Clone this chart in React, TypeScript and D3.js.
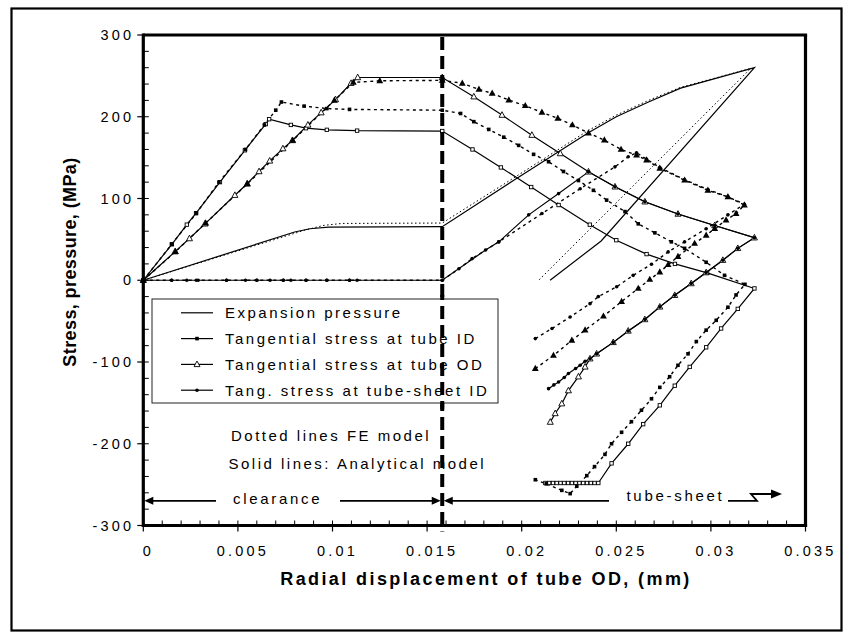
import React from 'react';
import * as d3 from 'd3';

type P = [number, number];

// ---------- axis ticks ----------
const xTickValues = [0, 0.005, 0.01, 0.015, 0.02, 0.025, 0.03, 0.035];
const xTickLabels = ['0', '0.005', '0.01', '0.015', '0.02', '0.025', '0.03', '0.035'];
const yTickValues = [-300, -200, -100, 0, 100, 200, 300];
const yTickLabels = ['-300', '-200', '-100', '0', '100', '200', '300'];
const clearanceEnd = 0.0158;

// ---------- data (radial displacement mm, stress MPa) ----------
const pressureAnalytical: P[] = [[0,0],[0.008,59],[0.0088,63],[0.0098,65],[0.0158,65.5],[0.0195,121],[0.0235,180],[0.025,200],[0.0267,218],[0.0284,235],[0.0323,260],[0.0242,48],[0.0215,0]];
const pressureFE: P[] = [[0,0],[0.0085,61],[0.0095,67],[0.0105,69.5],[0.0158,70],[0.0195,124],[0.0235,183],[0.025,202],[0.0267,220],[0.0284,236],[0.0321,259],[0.0209,0]];

const idAnalytical: P[] = [[0,0],[0.00151,44],[0.0023,68],[0.00279,82],[0.00405,120],[0.00537,159],[0.00647,191],[0.00665,197],[0.0078,190],[0.0086,186],[0.0097,184],[0.0113,183],[0.0158,182.5],[0.0174,160],[0.0189,138],[0.0205,114],[0.02195,92],[0.0236,68],[0.025,49],[0.0266,32],[0.0281,20],[0.0298,9],[0.0323,-10],[0.03142,-35],[0.03054,-59],[0.02975,-82],[0.02888,-106],[0.02809,-129],[0.0273,-153],[0.02642,-176],[0.02563,-200],[0.02475,-224],[0.02405,-248],[0.02385,-248],[0.02365,-248],[0.02345,-248],[0.02325,-248],[0.02305,-248],[0.02285,-248],[0.02265,-248],[0.02245,-248],[0.02225,-248],[0.02205,-248],[0.02185,-248],[0.02165,-248],[0.02145,-248],[0.02125,-248]];
const idFE: P[] = [[0,0],[0.0015,44],[0.0028,82],[0.004,120],[0.0054,160],[0.0064,190],[0.007,208],[0.0073,218],[0.0085,213],[0.0097,210],[0.0109,209],[0.0158,208],[0.01677,204],[0.01747,194],[0.01826,184.5],[0.01905,175],[0.01984,165],[0.02063,154],[0.02142,145],[0.02221,133],[0.023,122],[0.02379,110],[0.02449,98],[0.02546,84],[0.02616,69],[0.02704,58],[0.02791,47],[0.02861,39],[0.02975,22],[0.03072,6],[0.0318,-5],[0.03133,-18],[0.0309,-33],[0.03028,-49],[0.02975,-61],[0.02923,-75],[0.02879,-90],[0.02826,-104],[0.02782,-118],[0.0273,-131],[0.02686,-145],[0.02633,-159],[0.0258,-173],[0.02528,-186],[0.02475,-200],[0.0244,-213],[0.02385,-228],[0.02344,-239],[0.02291,-252],[0.02256,-261],[0.02212,-257],[0.0213,-249],[0.02072,-244]];

const odAnalytical: P[] = [[0,0],[0.00168,35],[0.00244,51],[0.00326,69],[0.00484,104],[0.00549,118],[0.00612,133],[0.00668,146],[0.00738,161],[0.00788,171],[0.0087,190],[0.0094,205],[0.01016,221],[0.01098,241],[0.01133,248],[0.0158,248],[0.01747,224.5],[0.01896,202],[0.02054,177.5],[0.02204,155],[0.02353,132.6],[0.02493,114.3],[0.02651,96],[0.02826,81],[0.0302,67],[0.0323,52],[0.03142,39],[0.03063,24.5],[0.02975,9.4],[0.02896,-4],[0.02809,-18.4],[0.0273,-32.6],[0.02651,-48],[0.02563,-62],[0.02484,-76],[0.02396,-90],[0.02361,-96],[0.02335,-106],[0.023,-118],[0.02247,-135],[0.02212,-151],[0.02177,-163],[0.02151,-173.5]];
const odFE: P[] = [[0,0],[0.0017,35],[0.0033,70],[0.0055,118],[0.0079,171],[0.0101,220],[0.0111,242],[0.0125,244],[0.0158,244.5],[0.01686,241],[0.01774,233.5],[0.01844,228.6],[0.01932,220.4],[0.02019,213.5],[0.02107,205.3],[0.02191,198],[0.02268,190],[0.02353,180],[0.02437,171.4],[0.02525,160],[0.02607,153],[0.0266,147],[0.0273,137],[0.02861,122.4],[0.02984,110],[0.0309,102],[0.03177,92],[0.03133,81.6],[0.0308,73.5],[0.0302,63.3],[0.02975,55],[0.02914,45],[0.02826,29],[0.02774,19],[0.0273,10],[0.02677,1],[0.02616,-10],[0.02528,-26],[0.02432,-44],[0.02335,-61],[0.02265,-73.5],[0.02168,-92],[0.02072,-108]];

const tsAnalytical: P[] = [[0,0],[0.0015,0],[0.0023,0],[0.0029,0],[0.0044,0],[0.0054,0],[0.006,0],[0.0067,0],[0.0074,0],[0.0078,0],[0.0086,0],[0.0097,0],[0.0109,0],[0.0113,0],[0.0158,0],[0.01809,37],[0.01879,47],[0.02037,80],[0.02195,106],[0.02353,132.6],[0.02493,114.3],[0.02651,96],[0.02826,81],[0.0302,67],[0.0323,52],[0.03142,39],[0.03063,24.5],[0.02975,9.4],[0.02896,-4],[0.02809,-18.4],[0.0273,-32.6],[0.02651,-48],[0.02563,-62],[0.02484,-76],[0.02396,-90],[0.02361,-96],[0.02335,-99],[0.02309,-104],[0.02285,-108],[0.02247,-114],[0.02225,-119],[0.02195,-124.5],[0.0217,-128],[0.02142,-132.6]];
const tsFE: P[] = [[0,0],[0.0015,0],[0.0028,0],[0.0044,0],[0.006,0],[0.0074,0],[0.0086,0],[0.0097,0],[0.0109,0],[0.0158,0],[0.01668,14],[0.01738,26.5],[0.01879,47],[0.02107,81.6],[0.02309,112],[0.02493,138.7],[0.02563,151],[0.02607,156],[0.0266,148],[0.0273,138],[0.02861,123],[0.02984,111],[0.0309,102],[0.03177,93],[0.0309,80],[0.02975,63],[0.02861,47],[0.02774,34.7],[0.02686,19.6],[0.02589,6],[0.02502,-8],[0.02405,-20],[0.02361,-28.6],[0.02256,-45],[0.0216,-59],[0.02072,-71.4]];

const legendLabels = ['Expansion pressure', 'Tangential stress at tube ID', 'Tangential stress at tube OD', 'Tang. stress at tube-sheet ID'];

type Marker = 'none' | 'sqOpen' | 'sqFill' | 'triOpen' | 'triFill' | 'dot';
interface Series { data: P[]; fe: boolean; marker: Marker; }

const series: Series[] = [
  { data: pressureAnalytical, fe: false, marker: 'none' },
  { data: pressureFE, fe: true, marker: 'none' },
  { data: idAnalytical, fe: false, marker: 'sqOpen' },
  { data: idFE, fe: true, marker: 'sqFill' },
  { data: odAnalytical, fe: false, marker: 'triOpen' },
  { data: odFE, fe: true, marker: 'triFill' },
  { data: tsAnalytical, fe: false, marker: 'dot' },
  { data: tsFE, fe: true, marker: 'dot' },
];

const FONT = '"Liberation Sans", Arial, Helvetica, sans-serif';

function MarkerGlyph({ type, cx, cy }: { type: Marker; cx: number; cy: number }) {
  switch (type) {
    case 'sqOpen':
      return <rect x={cx - 1.7} y={cy - 1.7} width={3.4} height={3.4} fill="#fff" stroke="#000" strokeWidth={0.9} />;
    case 'sqFill':
      return <rect x={cx - 1.8} y={cy - 1.8} width={3.6} height={3.6} fill="#000" />;
    case 'triOpen':
      return <polygon points={`${cx},${cy - 3.4} ${cx + 3},${cy + 2.2} ${cx - 3},${cy + 2.2}`} fill="#fff" stroke="#000" strokeWidth={0.9} />;
    case 'triFill':
      return <polygon points={`${cx},${cy - 3.8} ${cx + 3.4},${cy + 2.4} ${cx - 3.4},${cy + 2.4}`} fill="#000" />;
    case 'dot':
      return <circle cx={cx} cy={cy} r={1.8} fill="#000" />;
    default:
      return null;
  }
}

export default function App() {
  const W = 853, H = 638;
  const x = d3.scaleLinear().domain([0, 0.035]).range([143.3, 805.5]);
  const y = d3.scaleLinear().domain([-300, 300]).range([525.5, 35]);
  const line = d3.line<P>().x(d => x(d[0])).y(d => y(d[1]));

  const yMinor = d3.range(-300, 301, 20);
  const xMinor = d3.range(0, 0.0351, 0.001);
  const textStyle = { fontFamily: FONT, fontSize: 15, letterSpacing: '2.5px' } as React.CSSProperties;

  const legX = 152, legY = 299, legW = 346, legH = 104;
  const legRows = [312.8, 338.6, 364.4, 390.2];
  const legMarkers: Marker[] = ['none', 'sqFill', 'triOpen', 'dot'];

  const xd = x(clearanceEnd);
  const arrowY = 500.8;

  return (
    <svg width={W} height={H} style={{ position: 'absolute', left: 0, top: 0, background: '#fff' }}>
      <rect x={0} y={0} width={W} height={H} fill="#fff" />
      <rect x={11.5} y={8.5} width={830} height={622} fill="none" stroke="#000" strokeWidth={2.2} />

      {/* minor y ticks (inside) */}
      {yMinor.map(v => (
        <line key={'ym' + v} x1={x(0)} x2={x(0) + 5.5} y1={y(v)} y2={y(v)} stroke="#000" strokeWidth={1} />
      ))}
      {/* major y ticks (outside) */}
      {yTickValues.map(v => (
        <line key={'yM' + v} x1={x(0) - 6} x2={x(0)} y1={y(v)} y2={y(v)} stroke="#000" strokeWidth={1.2} />
      ))}
      {xMinor.map((v, i) => (
        <line key={'xm' + i} x1={x(v)} x2={x(v)} y1={y(-300)} y2={y(-300) - 5} stroke="#000" strokeWidth={1} />
      ))}
      {xTickValues.map(v => (
        <line key={'xM' + v} x1={x(v)} x2={x(v)} y1={y(-300)} y2={y(-300) + 6} stroke="#000" strokeWidth={1.2} />
      ))}

      {/* tick labels */}
      {yTickValues.map((v, i) => (
        <text key={'yl' + v} x={x(0) - 9} y={y(v) + 5} textAnchor="end"
          style={{ fontFamily: FONT, fontSize: 14.5, letterSpacing: '3.2px' }}>{yTickLabels[i]}</text>
      ))}
      {xTickValues.map((v, i) => (
        <text key={'xl' + v} x={x(v) + 5} y={556} textAnchor="middle"
          style={{ fontFamily: FONT, fontSize: 14.5, letterSpacing: '3.2px' }}>{xTickLabels[i]}</text>
      ))}

      {/* axis titles */}
      <text x={486} y={585} textAnchor="middle"
        style={{ fontFamily: FONT, fontSize: 18, fontWeight: 'bold', letterSpacing: '2.4px' }}>
        Radial displacement of tube OD, (mm)
      </text>
      <text transform={`translate(76,262) rotate(-90)`} textAnchor="middle"
        style={{ fontFamily: FONT, fontSize: 18, fontWeight: 'bold', letterSpacing: '0.4px' }}>
        Stress, pressure, (MPa)
      </text>

      {/* series lines */}
      {series.map((s, i) => (
        <path key={'l' + i} d={line(s.data) || ''} fill="none" stroke="#000"
          strokeWidth={s.fe ? (s.marker === 'none' ? 1 : 1.4) : 1.2}
          strokeDasharray={s.fe ? (s.marker === 'none' ? '1.5,2.5' : '3,3.5') : undefined} />
      ))}
      {/* series markers */}
      {series.map((s, i) => s.marker === 'none' ? null : (
        <g key={'m' + i}>
          {s.data.map((d, j) => <MarkerGlyph key={j} type={s.marker} cx={x(d[0])} cy={y(d[1])} />)}
        </g>
      ))}

      {/* clearance boundary dashed line */}
      <line x1={xd} x2={xd} y1={y(300) + 2} y2={y(-300) + 6} stroke="#000" strokeWidth={4} strokeDasharray="13,6" />

      {/* plot frame */}
      <line x1={x(0)} x2={x(0)} y1={y(300) - 1.6} y2={y(-300) + 1.6} stroke="#000" strokeWidth={3.2} />
      <line x1={x(0)} x2={x(0.035) + 1.6} y1={y(300)} y2={y(300)} stroke="#000" strokeWidth={3.2} />
      <line x1={x(0.035)} x2={x(0.035)} y1={y(300)} y2={y(-300) + 1.6} stroke="#000" strokeWidth={3.2} />
      <line x1={x(0)} x2={x(0.035) + 1.6} y1={y(-300)} y2={y(-300)} stroke="#000" strokeWidth={3.2} />

      {/* legend */}
      <rect x={legX} y={legY} width={legW} height={legH} fill="#fff" stroke="#222" strokeWidth={1} />
      {legendLabels.map((lab, i) => (
        <g key={'lg' + i}>
          <line x1={181} x2={213} y1={legRows[i]} y2={legRows[i]} stroke="#000" strokeWidth={1.2} />
          <MarkerGlyph type={legMarkers[i]} cx={197} cy={legRows[i]} />
          <text x={225} y={legRows[i] + 5.3} style={textStyle}>{lab}</text>
        </g>
      ))}
      {/* the dashed line passes over the legend box */}
      <line x1={xd} x2={xd} y1={legY - 4} y2={legY + legH + 6} stroke="#000" strokeWidth={4} strokeDasharray="13,6" strokeDashoffset={-((legY - 4) - (y(300) + 2))} />

      {/* annotations */}
      <text x={231} y={441} style={textStyle}>Dotted lines FE model</text>
      <text x={228.5} y={469} style={textStyle}>Solid lines: Analytical model</text>
      <text x={233} y={504} style={{ ...textStyle, letterSpacing: '2.7px' }}>clearance</text>
      <text x={626.5} y={500.5} style={{ ...textStyle, letterSpacing: '2.7px' }}>tube-sheet</text>

      {/* clearance arrows */}
      <line x1={150} x2={216} y1={arrowY} y2={arrowY} stroke="#000" strokeWidth={1.8} />
      <polygon points={`${x(0) + 1},${arrowY} ${x(0) + 10},${arrowY - 4} ${x(0) + 10},${arrowY + 4}`} fill="#000" />
      <line x1={340} x2={434} y1={arrowY} y2={arrowY} stroke="#000" strokeWidth={1.8} />
      <polygon points={`${xd - 1.5},${arrowY} ${xd - 10.5},${arrowY - 4} ${xd - 10.5},${arrowY + 4}`} fill="#000" />
      <polygon points={`${xd + 1.5},${arrowY} ${xd + 10.5},${arrowY - 4} ${xd + 10.5},${arrowY + 4}`} fill="#000" />
      <line x1={xd + 8} x2={609} y1={arrowY} y2={arrowY} stroke="#000" strokeWidth={1.8} />
      {/* tube-sheet broken arrow */}
      <path d={`M728,${arrowY} L757,${arrowY} L751,494 L772,494`} fill="none" stroke="#000" strokeWidth={1.8} />
      <polygon points={`782,494 771,489.5 771,498.5`} fill="#000" />
    </svg>
  );
}
